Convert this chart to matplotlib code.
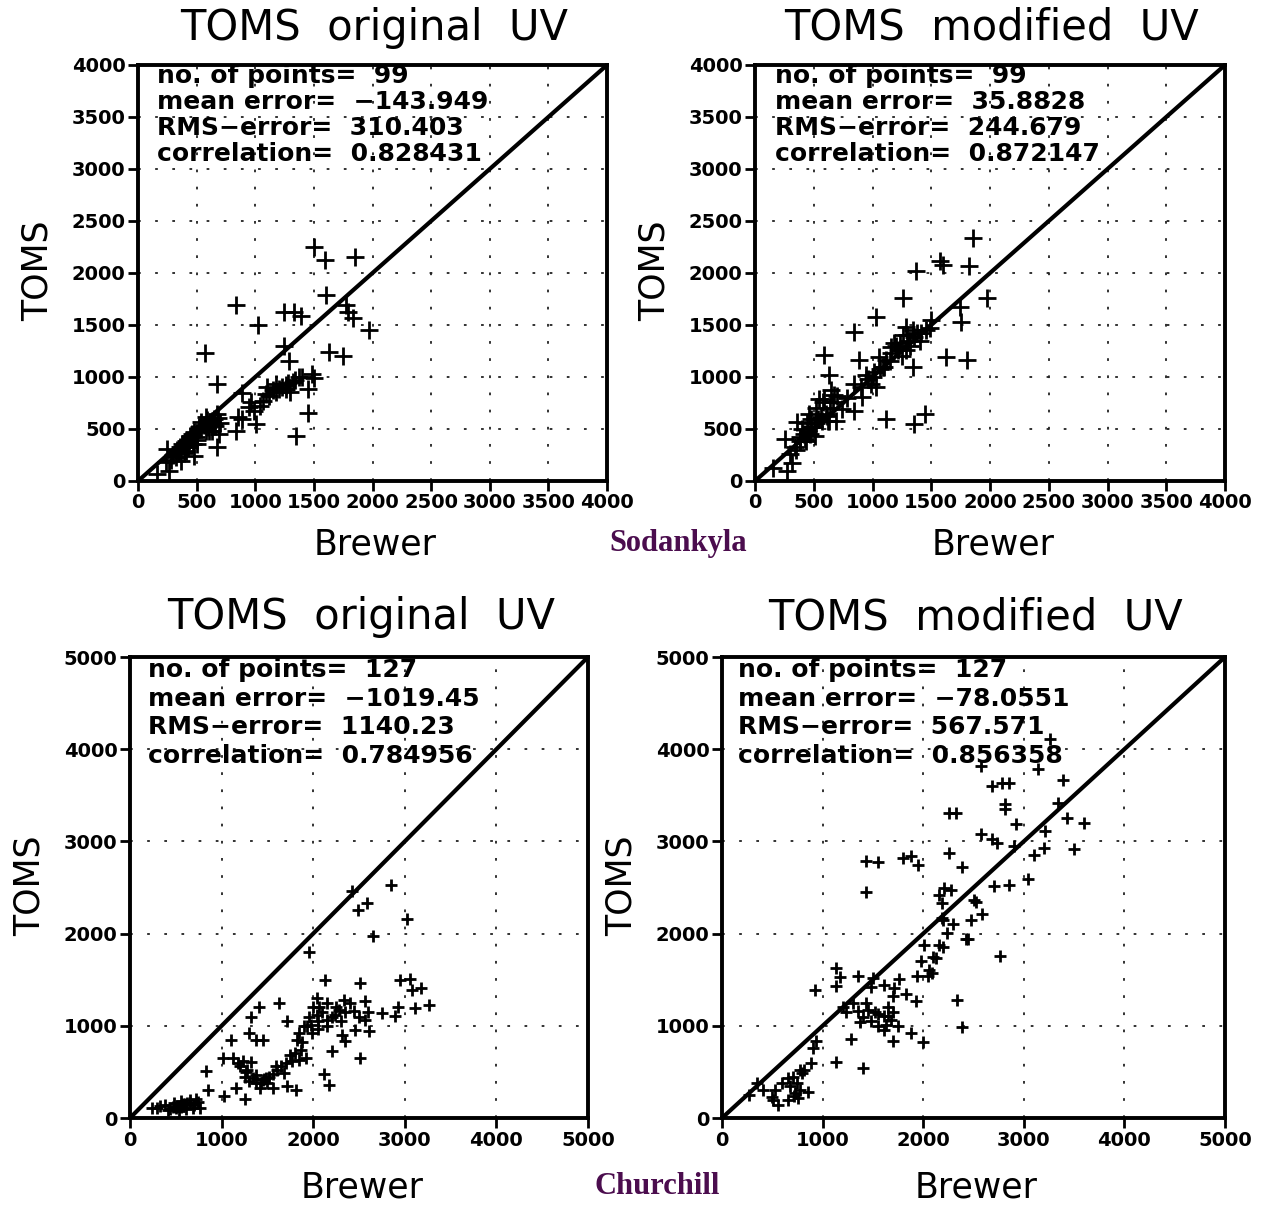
import numpy as np
import matplotlib
matplotlib.use("Agg")
import matplotlib.pyplot as plt

# Sodankyla, TOMS original UV: (Brewer, TOMS)
sod_orig_brewer = [1500, 1591, 1849, 834, 1020, 1249, 1334, 1386, 1606, 1771, 1791, 1834, 1971,
                   571, 1249, 1291, 1629, 1749, 677, 891, 1486, 1377, 1320, 1263, 1206, 1149,
                   1091, 1063, 1177, 1449, 949, 991, 1006, 849, 891, 834, 1449, 1349, 677, 649,
                   606, 677, 691, 577, 534, 634, 491, 434, 377, 349, 320, 249, 477, 506, 420,
                   363, 263, 163, 634, 577, 449, 391,
                   300, 330, 360, 390, 410, 440, 460, 480, 520, 540, 560, 590, 600, 620, 650,
                   680, 700, 660, 410, 350, 470, 500, 430, 280, 240, 1120, 1180, 1230, 1280,
                   1340, 1400, 1100, 1040, 960, 1300, 1260, 1500]
sod_orig_toms = [2252, 2129, 2155, 1694, 1500, 1629, 1629, 1587, 1784, 1694, 1629, 1565, 1452,
                 1226, 1297, 1155, 1242, 1200, 929, 845, 1026, 1000, 952, 919, 887, 871,
                 839, 774, 935, 887, 710, 677, 548, 613, 597, 484, 652, 435, 645, 548,
                 484, 323, 452, 613, 565, 581, 419, 387, 355, 290, 226, 306, 242, 355, 323,
                 194, 97, 65, 484, 484, 419, 274,
                 250, 300, 330, 350, 380, 430, 450, 470, 520, 500, 540, 590, 520, 560, 600,
                 610, 560, 530, 290, 270, 360, 390, 330, 200, 180, 820, 860, 900, 940,
                 970, 1000, 900, 720, 760, 860, 880, 990]

# Sodankyla, TOMS modified UV
sod_mod_brewer = [1857, 1571, 1600, 1823, 1371, 1971, 1257, 1743, 1757, 1029, 843, 1500, 1486,
                  586, 1629, 1800, 886, 1057, 1343, 1286, 1343, 1414, 1257, 1186, 1214, 1286,
                  1157, 1114, 1086, 1014, 943, 986, 1029, 843, 914, 843, 629, 643, 586, 543,
                  671, 686, 614, 1114, 1357, 1443, 457, 357, 400, 471, 429, 386, 257, 343,
                  314, 157, 271, 571, 629, 500, 514, 743, 1457, 1157,
                  380, 420, 450, 480, 520, 540, 560, 600, 640, 660, 700, 480, 430, 350, 300,
                  1200, 1230, 1300, 1350, 1380, 1250, 1100, 1150, 1000, 960, 900, 1060, 780,
                  520, 620, 440, 580, 1320, 1400, 1290]
sod_mod_toms = [2339, 2113, 2081, 2065, 2016, 1758, 1758, 1671, 1532, 1581, 1435, 1548, 1468,
                1210, 1194, 1161, 1161, 1194, 1097, 1484, 1452, 1419, 1403, 1323, 1258, 1258,
                1226, 1161, 1097, 1048, 1016, 935, 903, 935, 806, 677, 1016, 871, 790, 790,
                823, 581, 629, 597, 548, 645, 645, 565, 500, 452, 403, 387, 403, 323,
                177, 129, 97, 581, 581, 516, 436, 694, 1452, 1290,
                420, 450, 470, 520, 560, 600, 620, 640, 700, 760, 820, 600, 380, 300, 260,
                1300, 1330, 1350, 1380, 1420, 1200, 1100, 1150, 1000, 980, 900, 1080, 800,
                700, 580, 560, 760, 1300, 1350, 1400]

# Churchill, TOMS original UV
chu_orig_brewer = [2423, 2850, 2586, 2488, 3020, 2658, 1953, 2134, 2514, 2948, 3056, 3074, 3176,
                   3263, 3111, 2923, 2894, 2749, 2568, 2568, 2604, 2459, 2351, 2315, 2206, 2514,
                   2333, 2279, 2243, 2441, 2152, 2044, 2062, 2044, 1971, 1935, 1989, 1845, 1827,
                   1863, 1845, 1773, 1917, 1718, 1628, 1411, 1320, 1302, 1375, 1447, 1103, 1013,
                   1121, 1230, 1320, 1266, 1375, 1447, 1501, 1556, 1592, 1682, 1718, 1809, 1158,
                   1258, 1031, 832, 850, 2116, 2170, 723, 651, 597, 524, 470, 380, 235, 760,
                   687, 615, 434, 561, 1483, 1429,
                   300, 330, 420, 500, 540, 580, 620, 650, 700, 740, 480, 560,
                   1200, 1250, 1300, 1340, 1380, 1420, 1460, 1520, 1560, 1600, 1650, 1700, 1750,
                   1800, 1280, 1180,
                   1900, 1950, 2000, 2050, 2100, 2150, 2200, 2250, 2300, 2350, 2400, 2500, 2600,
                   1880, 2050, 2150]
chu_orig_toms = [2460, 2522, 2331, 2252, 2162, 1971, 1802, 1496, 1468, 1496, 1504, 1388, 1406,
                 1227, 1191, 1209, 1101, 1137, 1273, 1065, 939, 957, 831, 903, 723, 651,
                 1281, 1173, 1119, 1165, 1065, 1299, 1209, 1119, 1011, 993, 921, 921, 849,
                 741, 633, 615, 651, 1047, 1245, 1201, 1093, 921, 849, 849, 849, 651,
                 651, 615, 604, 504, 471, 417, 381, 327, 561, 489, 345, 309, 327,
                 209, 237, 507, 309, 482, 363, 201, 165, 147, 129, 122, 137, 111, 111,
                 111, 101, 94, 183, 435, 381,
                 110, 130, 90, 110, 80, 150, 160, 190, 140, 170, 160, 120,
                 560, 450, 400, 430, 380, 330, 420, 450, 480, 520, 560, 600, 680,
                 700, 520, 600,
                 1000, 1100, 1200, 1050, 1150, 1250, 1100, 1200, 1050, 1150, 1250, 1100, 1150,
                 820, 960, 1000]

# Churchill, TOMS modified UV
chu_mod_brewer = [3394, 3344, 3427, 3601, 3213, 3196, 3503, 3041, 2850, 2708, 2817, 2817, 2926,
                  2685, 2784, 2850, 2570, 3137, 2570, 2685, 2735, 2257, 2330, 1433, 1549, 1796,
                  1879, 1944, 2257, 2383, 1433, 2208, 2274, 2158, 2191, 2504, 2521, 2586, 2478,
                  2201, 2234, 2422, 2448, 2768, 2010, 2158, 1977, 2125, 2059, 2043, 2092, 1938,
                  1763, 1928, 2339, 2382, 1130, 1176, 1137, 1351, 1500, 1483, 1614, 1713, 1697,
                  1829, 923, 1236, 1351, 1433, 1450, 1367, 1516, 1549, 1614, 1648, 1681, 1614,
                  1631, 1697, 1878, 2000, 1285, 1137, 1400, 939, 906, 774, 791, 708, 659, 741,
                  857, 725, 758, 659, 560, 511, 527, 412, 264, 346, 494, 2185, 3261,
                  600, 680, 720, 780, 820, 880, 1200, 1300, 1400, 1480, 1550, 1650, 1700, 1750,
                  2100, 2200, 2300, 2900, 3100]
chu_mod_toms = [3667, 3420, 3257, 3196, 3112, 2931, 2920, 2587, 2532, 2514, 3402, 3348, 3185,
                3601, 3630, 3630, 3819, 3790, 3076, 3022, 2986, 3304, 3304, 2786, 2775, 2822,
                2840, 2739, 2869, 2725, 2449, 2496, 2478, 2424, 2333, 2369, 2344, 2217, 2152,
                2152, 2007, 1942, 1942, 1761, 1880, 1880, 1699, 1735, 1609, 1536, 1572, 1543,
                1507, 1264, 1283, 985, 1627, 1529, 1435, 1543, 1518, 1420, 1445, 1409, 1319,
                1348, 1384, 1145, 1156, 1246, 1174, 1036, 1145, 1130, 1101, 1109, 1065, 957,
                1011, 830, 920, 822, 855, 612, 540, 830, 757, 522, 485, 449, 431, 377,
                286, 268, 214, 196, 141, 196, 304, 304, 250, 377, 232, 2170, 4109,
                380, 350, 240, 300, 520, 600, 1200, 1250, 1100, 1050, 1000, 1200, 1150, 1000,
                1750, 1850, 2100, 2950, 2850]

panel_titles = ["TOMS  original  UV", "TOMS  modified  UV",
                "TOMS  original  UV", "TOMS  modified  UV"]
panel_stats = [
    ["no. of points=  99", "mean error=  \u2212143.949", "RMS\u2212error=  310.403", "correlation=  0.828431"],
    ["no. of points=  99", "mean error=  35.8828", "RMS\u2212error=  244.679", "correlation=  0.872147"],
    ["no. of points=  127", "mean error=  \u22121019.45", "RMS\u2212error=  1140.23", "correlation=  0.784956"],
    ["no. of points=  127", "mean error=  \u221278.0551", "RMS\u2212error=  567.571", "correlation=  0.856358"],
]
stations = ["Sodankyla", "Churchill"]

W, H = 1261, 1205
fig = plt.figure(figsize=(W / 100, H / 100), dpi=100)


def fx(px):
    return px / W


def fy(py):
    return 1 - py / H


# axes boxes in pixels: left, right, top, bottom
boxes = [(138, 607, 65, 481), (755, 1225, 65, 481),
         (130, 588, 657, 1118), (722, 1225, 657, 1118)]
data = [(sod_orig_brewer, sod_orig_toms), (sod_mod_brewer, sod_mod_toms),
        (chu_orig_brewer, chu_orig_toms), (chu_mod_brewer, chu_mod_toms)]
limits = [4000, 4000, 5000, 5000]
steps = [500, 500, 1000, 1000]
msizes = [13, 13, 8, 8]
stat_x = [157, 775, 148, 738]
stat_y = [[76, 102, 128, 154], [76, 102, 128, 154],
          [670, 699, 727, 756], [670, 699, 727, 756]]

for i in range(4):
    l, r, t, b = boxes[i]
    ax = fig.add_axes([fx(l), fy(b), fx(r - l), (b - t) / H])
    lim = limits[i]
    x, y = data[i]
    ax.plot(x, y, linestyle='none', marker='+', markersize=msizes[i],
            markeredgewidth=2.0, color='black', zorder=3)
    ax.plot([0, lim], [0, lim], color='black', linewidth=3, zorder=4)
    ax.set_xlim(0, lim)
    ax.set_ylim(0, lim)
    ticks = np.arange(0, lim + 1, steps[i])
    ax.set_xticks(ticks)
    ax.set_yticks(ticks)
    ax.grid(True, color='#222222', linestyle=(0, (1.5, 8)), linewidth=1.3)
    for s in ax.spines.values():
        s.set_linewidth(2.8)
    ax.tick_params(direction='out', length=7, width=2, labelsize=14, pad=2)
    for lab in ax.get_xticklabels() + ax.get_yticklabels():
        lab.set_fontweight('bold')

    for j, line in enumerate(panel_stats[i]):
        fig.text(fx(stat_x[i]), fy(stat_y[i][j]), line, fontsize=18,
                 fontweight='bold', va='center', ha='left')

    cx = (l + r) / 2
    fig.text(fx(cx + 2), fy(t - 37 if i < 2 else t - 40), panel_titles[i], fontsize=30,
             ha='center', va='center')
    fig.text(fx(cx + 3), fy(b + 64 if i < 2 else b + 70), "Brewer", fontsize=25,
             ha='center', va='center')
    fig.text(fx(l - 100), fy((t + b) / 2 - 2), "TOMS",
             fontsize=25, rotation=90, ha='center', va='center')

fig.text(fx(678), fy(543), stations[0], fontsize=22, fontweight='bold',
         family=['Liberation Serif', 'DejaVu Serif'], color='#4b0d4e',
         ha='center', va='center')
fig.text(fx(657), fy(1187), stations[1], fontsize=22, fontweight='bold',
         family=['Liberation Serif', 'DejaVu Serif'], color='#4b0d4e',
         ha='center', va='center')

fig.savefig("out.png", dpi=100)
